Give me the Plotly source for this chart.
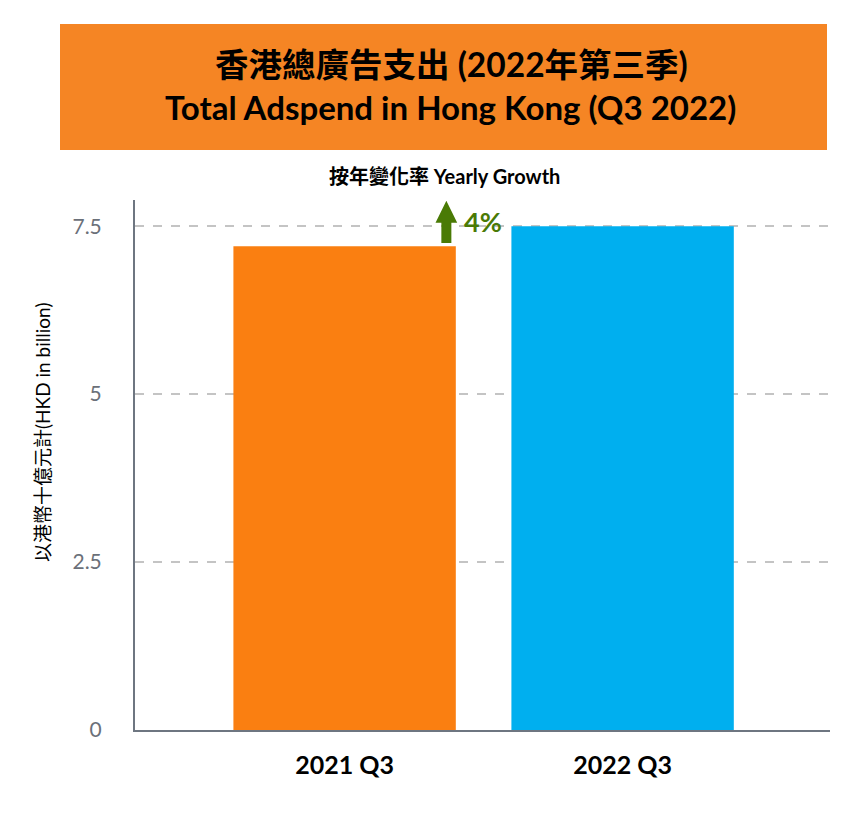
import plotly.graph_objects as go

categories = ["2021 Q3", "2022 Q3"]
values = [7.2, 7.5]
bar_colors = ["#FA7F11", "#00AFEF"]
growth_label = "4%"
y_ticks = [0, 2.5, 5, 7.5]
y_tick_labels = ["0", "2.5", "5", "7.5"]

title_cn = "香港總廣告支出 (2022年第三季)"
title_en = "Total Adspend in Hong Kong (Q3 2022)"
subtitle = "按年變化率 Yearly Growth"
y_title = "以港幣十億元計(HKD in billion)"

FONT = "Lato, 'Noto Sans CJK TC', sans-serif"

fig = go.Figure()
fig.add_trace(go.Bar(
    x=[0, 1], y=values, marker=dict(color=bar_colors, line=dict(width=0)),
    width=0.8, hoverinfo="skip",
))

OFF = 8  # page body margin
W, H = 854, 808
L, T = 135 - OFF, 200 - OFF
R = W - (830 - OFF)
B = H - (730 - OFF)
pw, ph = W - L - R, H - T - B

def px(xp):
    return (xp - OFF - L) / pw

def py(yp):
    return (H - B - (yp - OFF)) / ph

shapes = []
# title box
shapes.append(dict(type="rect", xref="paper", yref="paper",
                   x0=px(60), x1=px(827), y0=py(150), y1=py(24),
                   fillcolor="#F58524", line=dict(width=0), layer="below"))
# growth arrow (between the two bars)
ax = 0.366
y_base = values[0] + 0.05
y_tip = 7.88
y_head = 7.55
shapes.append(dict(
    type="path", xref="x", yref="y",
    path=(f"M {ax-0.018},{y_base} L {ax+0.018},{y_base} L {ax+0.018},{y_head} "
          f"L {ax+0.039},{y_head} L {ax},{y_tip} L {ax-0.039},{y_head} "
          f"L {ax-0.018},{y_head} Z"),
    fillcolor="#4A7A05", line=dict(width=0)))

def ann(text, x, y, size, color="#000000", xanchor="center", angle=0):
    return dict(text=text, xref="paper", yref="paper", x=px(x), y=py(y),
                showarrow=False, xanchor=xanchor, yanchor="middle",
                textangle=angle, font=dict(family=FONT, size=size, color=color))

annotations = [
    ann(f"<b>{title_cn}</b>", 451, 64, 33.5),
    ann(f"<b>{title_en}</b>", 450, 107, 33),
    ann(f"<b>{subtitle}</b>", 444, 176, 20),
    ann(f"<b>{growth_label}</b>", 462, 221, 27, color="#4A7A05", xanchor="left"),
    ann(y_title, 42, 432, 19, angle=-90),
]

fig.update_layout(
    width=W, height=H,
    margin=dict(l=L, r=R, t=T, b=B),
    paper_bgcolor="white", plot_bgcolor="white",
    showlegend=False,
    shapes=shapes,
    annotations=annotations,
    xaxis=dict(
        range=[-0.754, 1.746],
        tickvals=[0, 1], ticktext=[f"<b>{c}</b>" for c in categories],
        tickfont=dict(family=FONT, size=25, color="#000000"),
        showline=True, linecolor="#6E7681", linewidth=2,
        showgrid=False, zeroline=False, ticks="", ticklabelstandoff=12,
    ),
    yaxis=dict(
        range=[0, 7.89],
        tickvals=y_ticks, ticktext=y_tick_labels,
        tickfont=dict(family=FONT, size=21, color="#6B7079"),
        showline=True, linecolor="#6E7681", linewidth=2,
        showgrid=True, gridcolor="#C4C4C4", griddash="dash", gridwidth=1.5,
        zeroline=False, ticks="", ticklabelstandoff=27,
    ),
)

fig.write_html("out.html")
